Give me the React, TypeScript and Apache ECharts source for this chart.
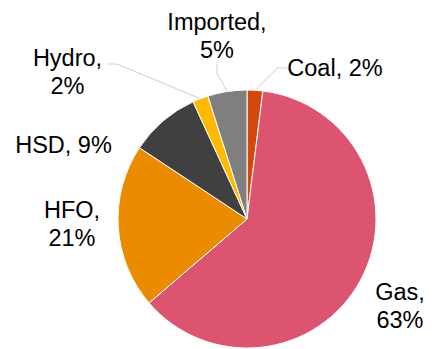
import React, { useEffect, useRef } from "react";
import * as echarts from "echarts";

// Generation mix shares (%)
const categories = ["Coal", "Gas", "HFO", "HSD", "Hydro", "Imported"];
const shares = [2, 63, 21, 9, 2, 5];
const colors = ["#d24a0b", "#dc5470", "#eb8c00", "#404040", "#ffb900", "#7f7f7f"];
// Which slices get a leader line to their label
const withLeader = [true, false, false, false, true, true];
// Label text centres in px, in series order
const labelCentres: [number, number][] = [
  [335, 68],
  [400, 306],
  [72, 224],
  [63.5, 145],
  [67.5, 71.5],
  [217, 35.5],
];
// Labels that break after the comma
const twoLine = [false, true, true, false, true, true];

export default function App() {
  const ref = useRef<HTMLDivElement>(null);

  useEffect(() => {
    document.body.style.margin = "0";
    const chart = echarts.init(ref.current!, undefined, { renderer: "svg" });
    chart.setOption({
      animation: false,
      backgroundColor: "#ffffff",
      series: [
        {
          type: "pie",
          center: [247, 219],
          radius: 129,
          startAngle: 90,
          clockwise: true,
          avoidLabelOverlap: false,
          itemStyle: { borderColor: "#ffffff", borderWidth: 1 },
          label: {
            show: true,
            position: "outside",
            fontFamily: "Liberation Sans, Arial, sans-serif",
            fontSize: 23.5,
            lineHeight: 28,
            color: "#000000",
            align: "center",
          },
          labelLine: {
            show: true,
            length: 10,
            length2: 10,
            lineStyle: { color: "#d0d0d0", width: 1 },
          },
          labelLayout: (params: any) => {
            const i = params.dataIndex;
            const [x, y] = labelCentres[i];
            const out: any = { x, y, align: "center", verticalAlign: "middle" };
            // Hydro: elbow leader that runs in level with the first line's baseline
            if (categories[i] === "Hydro" && params.labelLinePoints) {
              const start = params.labelLinePoints[0];
              const right = x + params.labelRect.width / 2;
              const ly = y - 7.5;
              out.labelLinePoints = [start, [right + 15, ly], [right + 5, ly]];
            }
            return out;
          },
          data: categories.map((name, i) => ({
            name,
            value: shares[i],
            itemStyle: { color: colors[i] },
            label: {
              formatter: twoLine[i] ? "{b},\n{c}%" : "{b}, {c}%",
            },
            labelLine: { show: withLeader[i] },
          })),
        },
      ],
    });
    return () => chart.dispose();
  }, []);

  return <div ref={ref} style={{ width: 432, height: 349 }} />;
}
